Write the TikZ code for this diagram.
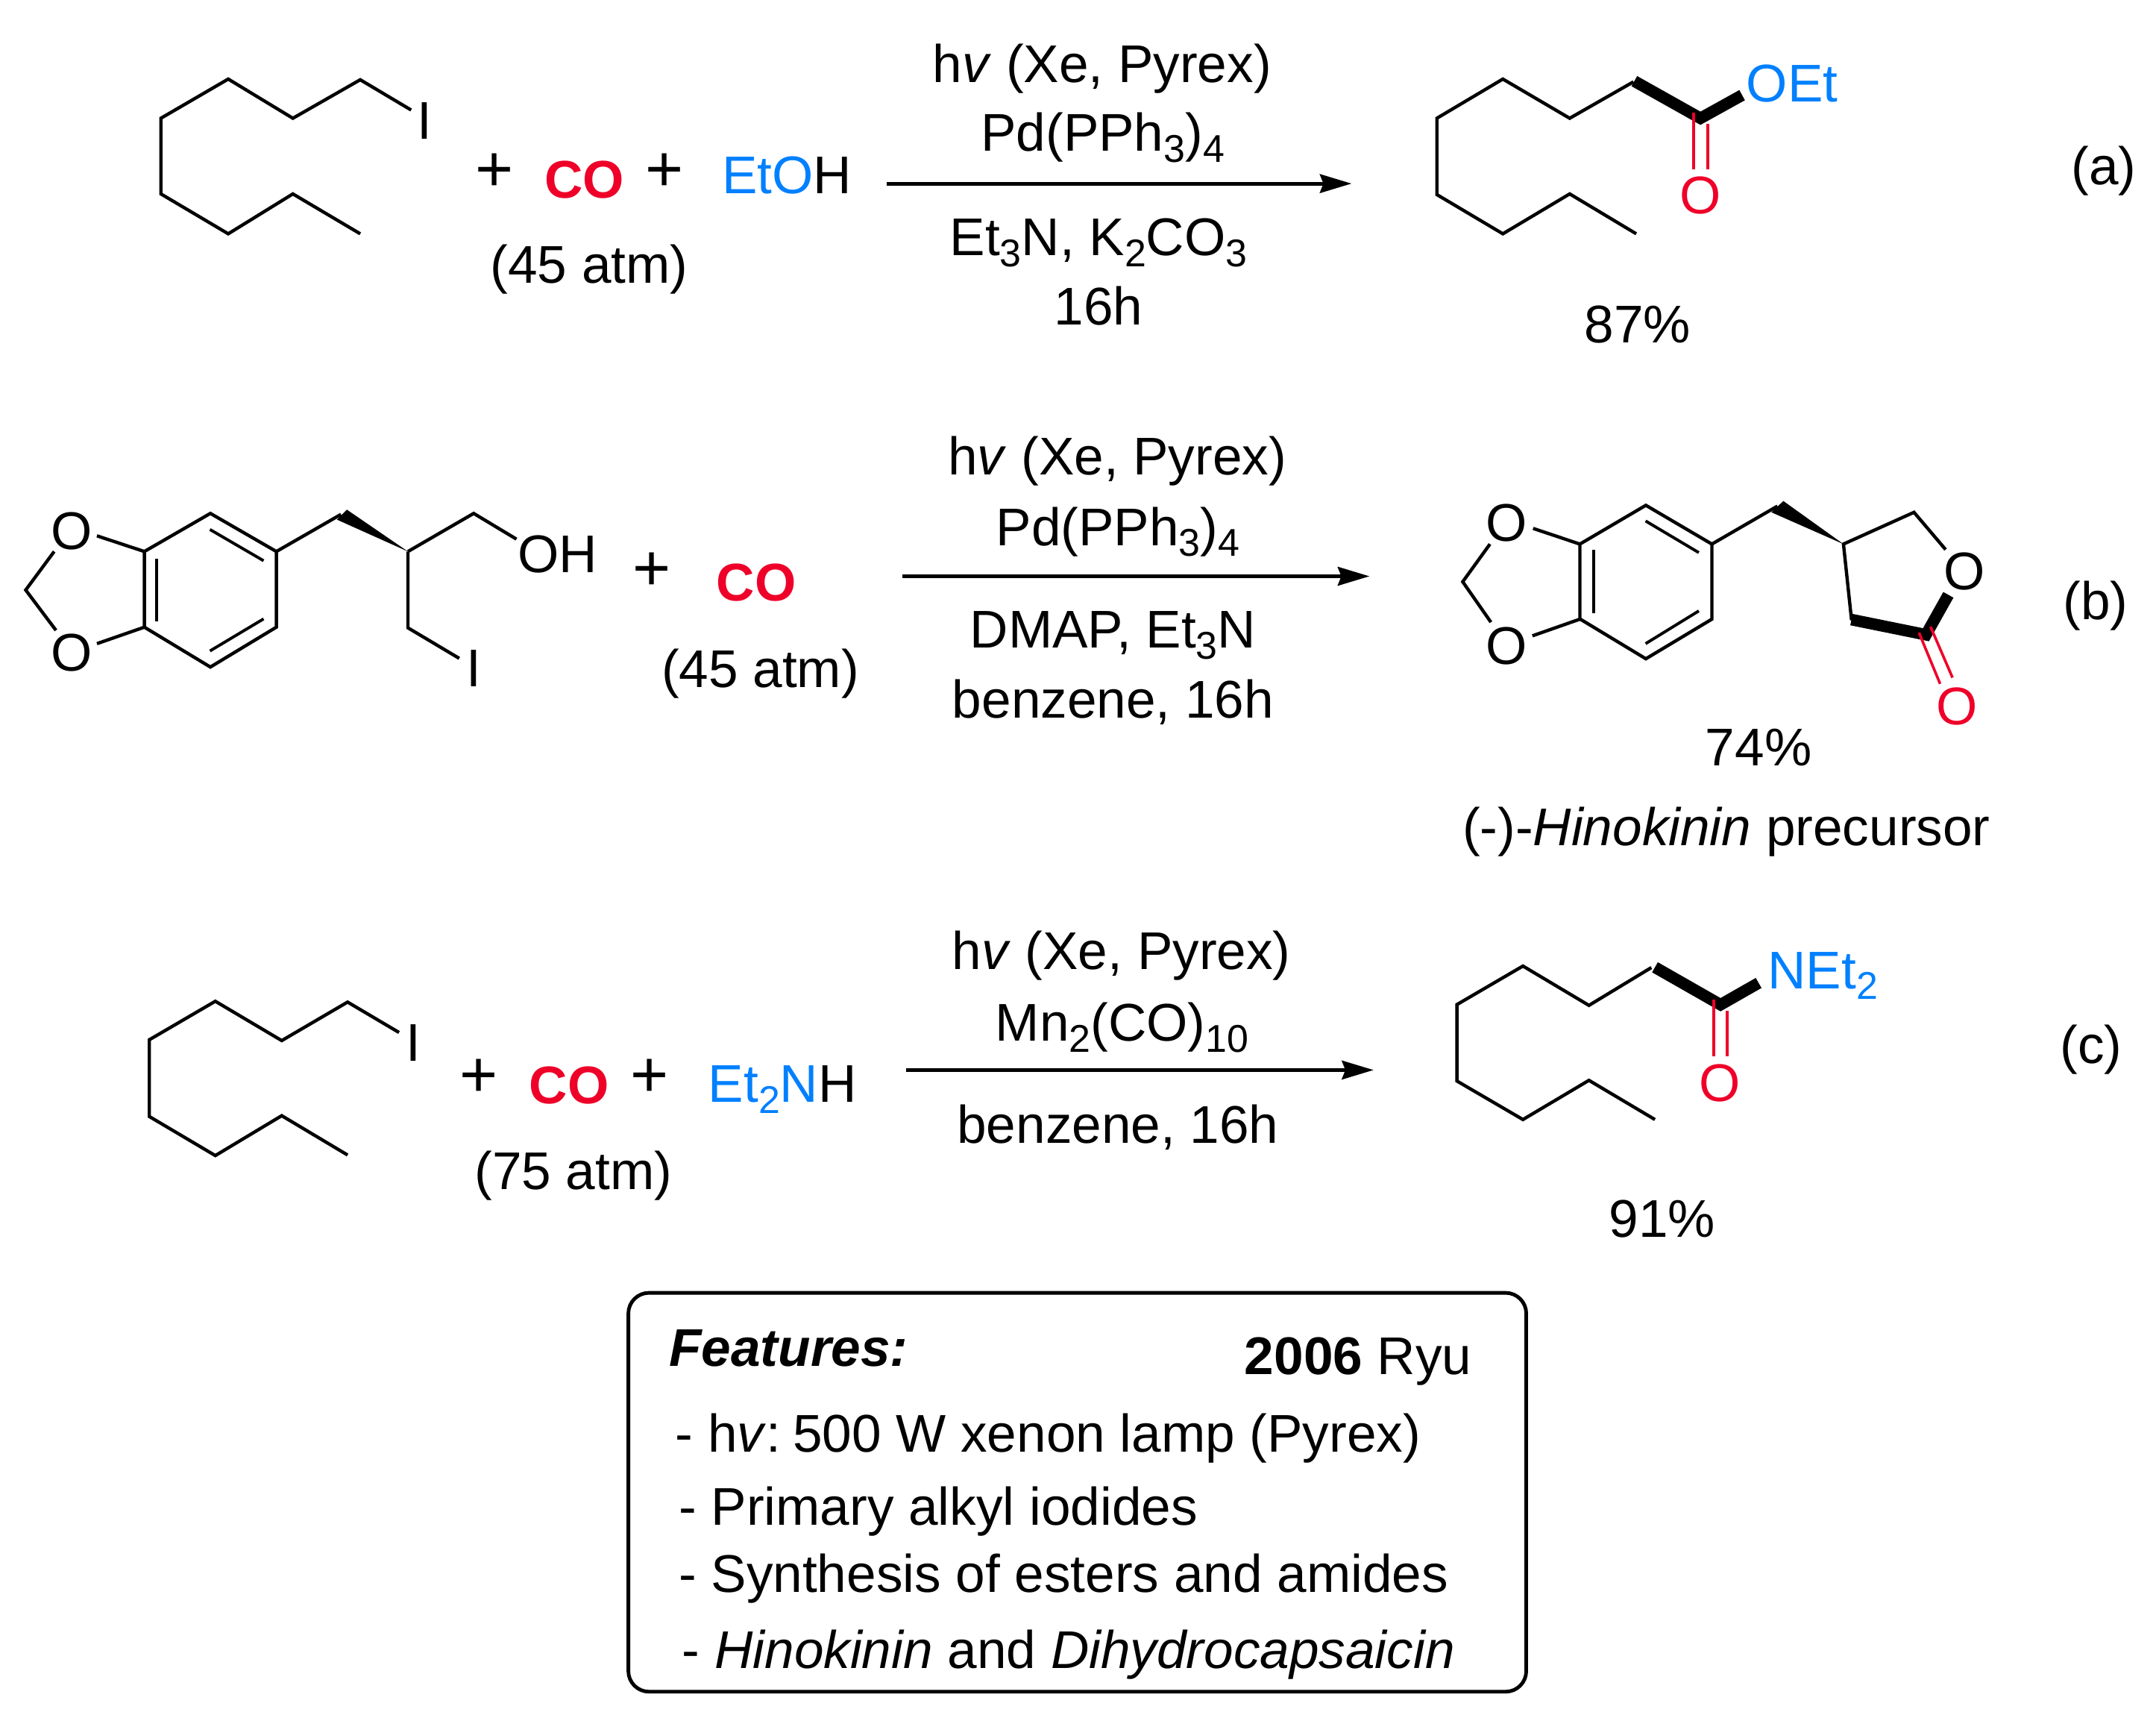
\documentclass[tikz,border=0pt]{standalone}
\usepackage{fontspec}
\setmainfont{Liberation Sans}
\usetikzlibrary{arrows.meta}
\definecolor{molred}{RGB}{238,0,41}
\definecolor{molblue}{RGB}{0,128,255}
\newcommand{\lowsub}[1]{\raisebox{-0.08cm}{\fontsize{8}{9}\selectfont #1}}
\tikzset{
  txt/.style={inner sep=0,anchor=base,font=\fontsize{10.97}{13}\selectfont},
  txtl/.style={txt,anchor=base west},
  plussign/.style={inner sep=0,anchor=base,font=\fontsize{13.5}{15}\selectfont},
  bond/.style={line width=0.68pt,line join=miter},
  inbond/.style={line width=0.6pt},
  boldbond/.style={line width=2.4pt,line join=miter},
  redbond/.style={line width=0.55pt,draw=molred},
  rxn/.style={line width=0.8pt,-{Stealth[length=0.23cm,width=0.135cm,inset=0.025cm]}}
}
\begin{document}
\begin{tikzpicture}[x=0.01cm,y=-0.01cm]
    \useasboundingbox (0,0) rectangle (1568,1244.7);

    % reaction a
    \draw[bond] (262,170) -- (213,141) -- (166,170) -- (117,141) -- (117,86) -- (166,57.5) -- (213,86) -- (262,58) -- (299,80);
    \node[txt] (iodideA) at (309,101) {I};
    \node[plussign] (plusA1) at (359.5,139) {+};
    \node[txt,text=molred] (coA) at (425,144) {\textbf{CO}};
    \node[plussign] (plusA2) at (483.5,139) {+};
    \node[txtl] (etohA) at (524.5,141) {\textcolor{molblue}{EtO}H};
    \node[txt] (atmA) at (428.5,206) {(45 atm)};

    \coordinate (arrowAs) at (645,133.5);
    \coordinate (arrowAe) at (983,133.5);
    \draw[rxn] (arrowAs) -- (arrowAe);
    \node[txt] (lampA) at (801.5,60) {h\textit{v} (Xe, Pyrex)};
    \node[txt] (catA) at (802,110) {Pd(PPh\lowsub{3})\lowsub{4}};
    \node[txt] (baseA) at (799,186) {Et\lowsub{3}N, K\lowsub{2}CO\lowsub{3}};
    \node[txt] (timeA) at (799,236) {16h};

    \draw[bond] (1190,170) -- (1141.6,141) -- (1093,170) -- (1045,141.5) -- (1045,86) -- (1093,57.5) -- (1141.6,86) -- (1188,59.5);
    \draw[redbond] (1242,90) -- (1242,123);
    \draw[boldbond] (1188.6,59) -- (1236.7,86) -- (1267,69.2);
    \draw[redbond] (1231.8,82) -- (1231.8,123);
    \node[txt,text=molred] (oxoA) at (1236.7,155.5) {O};
    \node[txtl,text=molblue] (oetA) at (1269.5,74) {OEt};
    \node[txt] (yieldA) at (1191,249.5) {87\%};
    \node[txt] (labelA) at (1530,134) {(a)};

    % reaction b
    \draw[bond] (105,401) -- (153,373.3) -- (201,401) -- (201,456) -- (153,485) -- (105,456) -- cycle;
    \draw[inbond] (114,406) -- (114,451.6);
    \draw[inbond] (152.7,385) -- (191.7,407.7);
    \draw[inbond] (152.7,473.3) -- (191.7,450);
    \node[txt] (oxyB1) at (52,399.5) {O};
    \node[txt] (oxyB2) at (52,488) {O};
    \draw[bond] (70.5,389.6) -- (105,401);
    \draw[bond] (70.5,468) -- (105,456);
    \draw[bond] (39.4,401) -- (18.7,429) -- (40.7,458.3);
    \draw[bond] (201,401) -- (248,374);
    \fill (296.7,401) -- (252.3,370.6) -- (245,377.8) -- cycle;
    \draw[bond] (296.7,401) -- (344.5,373.3) -- (375.6,392);
    \draw[bond] (296.7,401) -- (296.7,456.5) -- (334,478.7);
    \node[txtl] (hydroxB) at (376,416.5) {OH};
    \node[txt] (iodideB) at (344.5,499) {I};
    \node[plussign] (plusB) at (474,429.5) {+};
    \node[txt,text=molred] (coB) at (550,437) {\textbf{CO}};
    \node[txt] (atmB) at (553,500) {(45 atm)};

    \coordinate (arrowBs) at (656,419);
    \coordinate (arrowBe) at (996,419);
    \draw[rxn] (arrowBs) -- (arrowBe);
    \node[txt] (lampB) at (812.5,345) {h\textit{v} (Xe, Pyrex)};
    \node[txt] (catB) at (813,396.5) {Pd(PPh\lowsub{3})\lowsub{4}};
    \node[txt] (baseB) at (809.5,471) {DMAP, Et\lowsub{3}N};
    \node[txt] (solvB) at (809.5,522) {benzene, 16h};

    \draw[bond] (1149,395.6) -- (1197,367.4) -- (1245,395.6) -- (1245,450.2) -- (1197,479) -- (1149,450) -- cycle;
    \draw[inbond] (1159,400) -- (1159,445.9);
    \draw[inbond] (1196.8,378.8) -- (1235.5,401.8);
    \draw[inbond] (1196.8,468) -- (1235.5,444.2);
    \node[txt] (oxyC1) at (1095.6,393.5) {O};
    \node[txt] (oxyC2) at (1095.6,483) {O};
    \draw[bond] (1115,384.2) -- (1149,395.6);
    \draw[bond] (1114.5,462.3) -- (1149,450.2);
    \draw[bond] (1083.6,395.6) -- (1063.8,423) -- (1084.3,452.4);
    \draw[bond] (1245,395.6) -- (1292.7,368);
    \fill (1340.7,395.6) -- (1297,364.3) -- (1288.3,372.5) -- cycle;
    \draw[bond] (1346.6,451) -- (1340.7,395.6) -- (1392,372.5) -- (1415,399.6);
    \draw[boldbond] (1346.5,450.5) -- (1400.7,461.5) -- (1417,432.5);
    \draw[redbond] (1395.6,460) -- (1411,497.2);
    \draw[redbond] (1404,455.6) -- (1420,492.7);
    \node[txt] (oxyRing) at (1428.8,429) {O};
    \node[txt,text=molred] (oxoB) at (1423.4,527) {O};
    \node[txt] (yieldB) at (1279,557) {74\%};
    \node[txt] (precB) at (1255.5,615) {(-)-\textit{Hinokinin} precursor};
    \node[txt] (labelB) at (1524,450.5) {(b)};

    % reaction c
    \draw[bond] (252.8,839.8) -- (204.9,811.2) -- (156.6,840.2) -- (108.6,811.8) -- (108.6,756) -- (156.6,728) -- (204.9,756.6) -- (252.8,728.6) -- (290.2,750.7);
    \node[txt] (iodideC) at (300.8,771.5) {I};
    \node[plussign] (plusC1) at (348.4,797.5) {+};
    \node[txt,text=molred] (coC) at (414,802.5) {\textbf{CO}};
    \node[plussign] (plusC2) at (472.6,797.5) {+};
    \node[txtl] (aminC) at (514.5,801.5) {\textcolor{molblue}{Et\lowsub{2}N}H};
    \node[txt] (atmC) at (417,865) {(75 atm)};

    \coordinate (arrowCs) at (659,778);
    \coordinate (arrowCe) at (999,778);
    \draw[rxn] (arrowCs) -- (arrowCe);
    \node[txt] (lampC) at (815.5,705) {h\textit{v} (Xe, Pyrex)};
    \node[txt] (catC) at (816,757) {Mn\lowsub{2}(CO)\lowsub{10}};
    \node[txt] (solvC) at (813,831) {benzene, 16h};

    \draw[bond] (1203.6,814) -- (1155.6,785.5) -- (1107.6,814) -- (1059.6,786) -- (1059.6,730.4) -- (1107.6,702.4) -- (1155.6,731) -- (1201,703.5);
    \draw[redbond] (1256,735) -- (1256,767.8);
    \draw[boldbond] (1203.6,703.3) -- (1251.3,730.5) -- (1279,714.7);
    \draw[redbond] (1246.5,726.8) -- (1246.5,767.8);
    \node[txt,text=molred] (oxoC) at (1251,801) {O};
    \node[txtl,text=molblue] (netC) at (1285,718.7) {NEt\lowsub{2}};
    \node[txt] (yieldC) at (1208.8,899.5) {91\%};
    \node[txt] (labelC) at (1520.7,773) {(c)};

    % features box
    \draw[line width=0.75pt,rounded corners=0.15cm] (457,940) rectangle (1110,1230);
    \node[txtl] (featTitle) at (486,993.5) {\textbf{\textit{Features:}}};
    \node[txtl] (featRef) at (904.5,999.6) {\textbf{2006} Ryu};
    \node[txtl] (featLamp) at (490.5,1056) {- h\textit{v}:\hspace{-0.15em} 500 W xenon lamp (Pyrex)};
    \node[txtl] (featAlkyl) at (493,1108.7) {- Primary alkyl iodides};
    \node[txtl] (featEster) at (493,1157.6) {- Synthesis of esters and amides};
    \node[txtl] (featNat) at (495.5,1213) {- \textit{Hinokinin} and \textit{Dihydrocapsaicin}};
\end{tikzpicture}
\end{document}
